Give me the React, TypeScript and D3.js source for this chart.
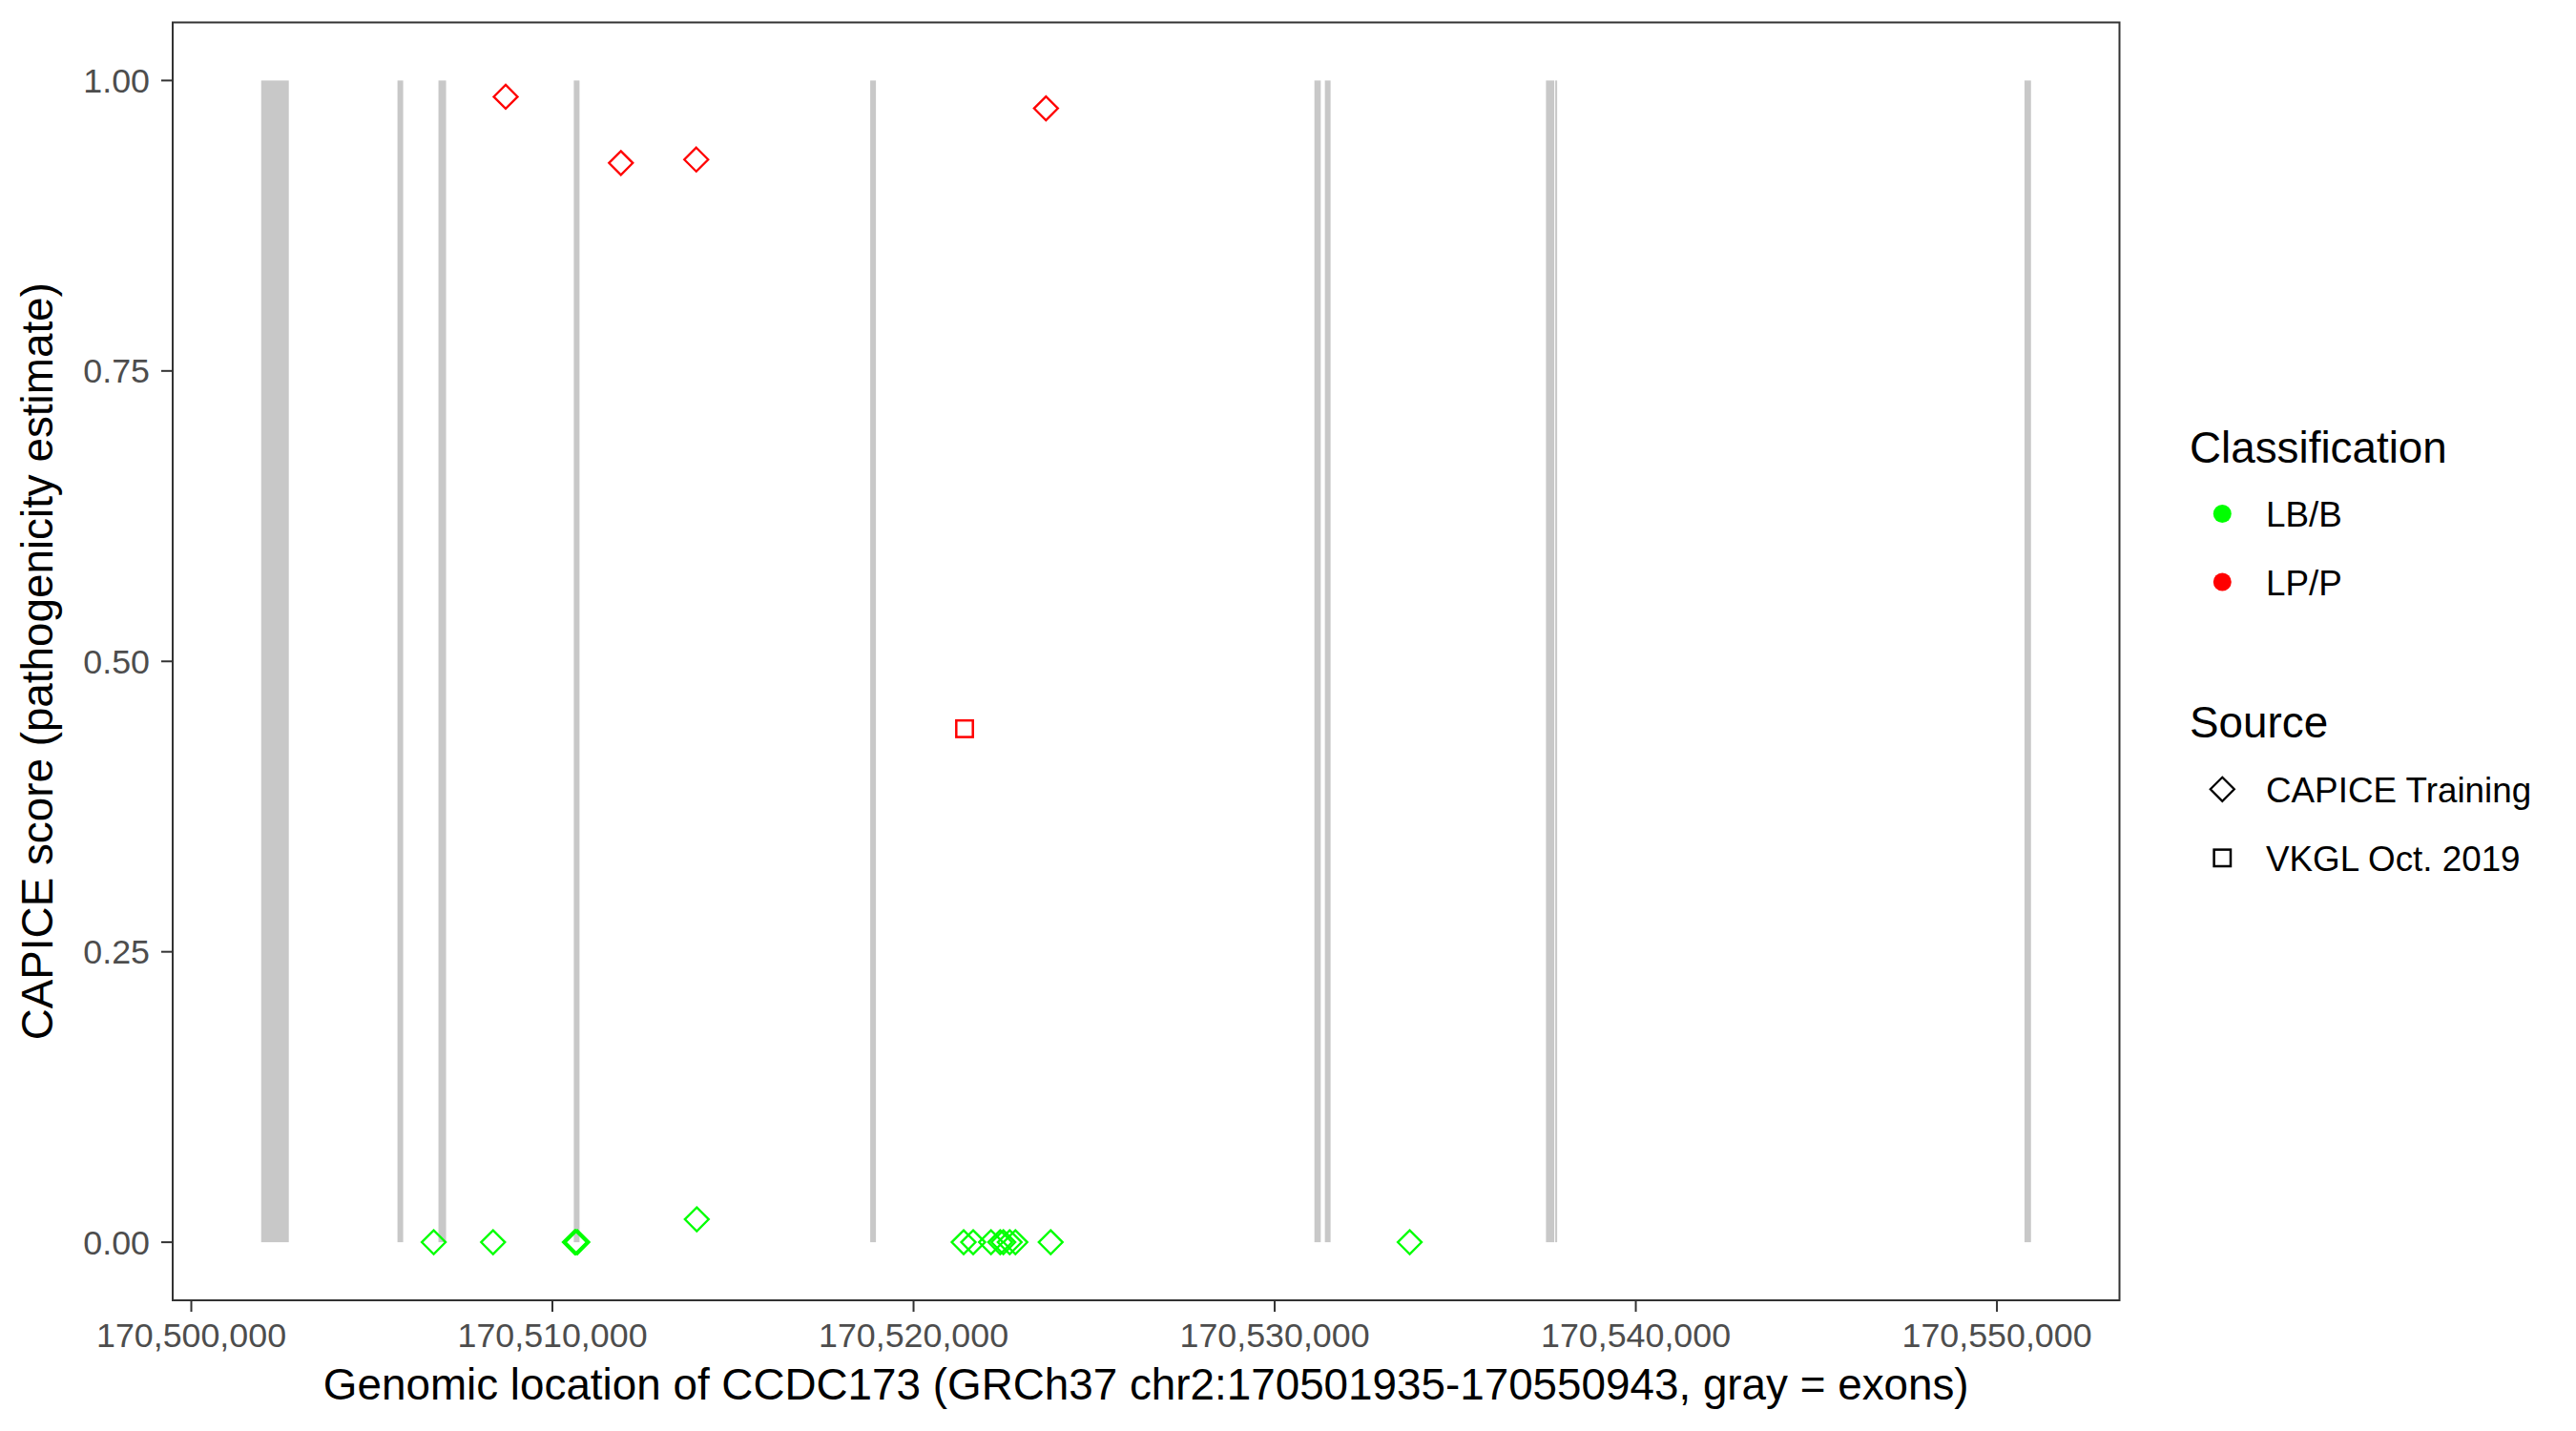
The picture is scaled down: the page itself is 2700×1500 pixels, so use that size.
import React from "react";
import * as d3 from "d3";

// ---- Data ----
const geneStart = 170501935;
const geneEnd = 170550943;

const exonStarts = [170501935, 170505709, 170506844, 170510592, 170518800, 170531100, 170531390, 170537513, 170537769, 170550763];
const exonEnds = [170502700, 170505867, 170507055, 170510750, 170518958, 170531276, 170531548, 170537743, 170537822, 170550943];

const variantPositions = [
  170506712, 170508356, 170510620, 170510652, 170510690, 170513997,
  170521387, 170521651, 170522144, 170522398, 170522487, 170522662, 170522820,
  170523797, 170533739,
  170508705, 170511896, 170513983, 170523667,
  170521413,
];
const variantScores = [
  0, 0, 0, 0, 0, 0.0197,
  0, 0, 0, 0, 0, 0, 0,
  0, 0,
  0.986, 0.929, 0.932, 0.976,
  0.442,
];
const variantClass = [
  "LB/B", "LB/B", "LB/B", "LB/B", "LB/B", "LB/B",
  "LB/B", "LB/B", "LB/B", "LB/B", "LB/B", "LB/B", "LB/B",
  "LB/B", "LB/B",
  "LP/P", "LP/P", "LP/P", "LP/P",
  "LP/P",
];
const variantSource = [
  "CAPICE Training", "CAPICE Training", "CAPICE Training", "CAPICE Training", "CAPICE Training", "CAPICE Training",
  "CAPICE Training", "CAPICE Training", "CAPICE Training", "CAPICE Training", "CAPICE Training", "CAPICE Training", "CAPICE Training",
  "CAPICE Training", "CAPICE Training",
  "CAPICE Training", "CAPICE Training", "CAPICE Training", "CAPICE Training",
  "VKGL Oct. 2019",
];

const xTicks = [170500000, 170510000, 170520000, 170530000, 170540000, 170550000];
const yTicks = [0, 0.25, 0.5, 0.75, 1.0];
const classLevels = ["LB/B", "LP/P"];
const classColors = ["#00FF00", "#FF0000"];
const sourceLevels = ["CAPICE Training", "VKGL Oct. 2019"];

const FONT = "'Liberation Sans', Arial, Helvetica, sans-serif";
const TITLE_SIZE = 45.8;
const TICK_SIZE = 35.8;
const LEGEND_SIZE = 36.8;

function Marker({ shape, cx, cy, color }: { shape: string; cx: number; cy: number; color: string }) {
  if (shape === "VKGL Oct. 2019") {
    const h = 8.7;
    return <rect x={cx - h} y={cy - h} width={2 * h} height={2 * h} fill="none" stroke={color} strokeWidth={2.5} />;
  }
  const r = 12.5;
  const p = `M${cx},${cy - r}L${cx + r},${cy}L${cx},${cy + r}L${cx - r},${cy}Z`;
  return <path d={p} fill="none" stroke={color} strokeWidth={2.3} />;
}

export default function App() {
  const W = 2700, H = 1500;
  const left = 181, right = 2221.5, top = 23.5, bottom = 1363;
  const span = geneEnd - geneStart;
  const x = d3.scaleLinear()
    .domain([geneStart - 0.05 * span, geneEnd + 0.05 * span])
    .range([left, right]);
  const y = d3.scaleLinear().domain([-0.05, 1.05]).range([bottom, top]);
  const color = d3.scaleOrdinal<string, string>().domain(classLevels).range(classColors);
  const fmt = d3.format(",");

  const idx = d3.range(variantPositions.length);

  return (
    <svg width={W} height={H} style={{ position: "absolute", left: 0, top: 0, background: "#fff" }} fontFamily={FONT}>
      <rect x={0} y={0} width={W} height={H} fill="#fff" />
      {/* exons */}
      {exonStarts.map((s, i) => (
        <rect key={"e" + i} x={x(s)} y={y(1)} width={Math.max(x(exonEnds[i]) - x(s), 1)} height={y(0) - y(1)} fill="#C8C8C8" />
      ))}
      {/* points */}
      {idx.map((i) => (
        <Marker key={"p" + i} shape={variantSource[i]} cx={x(variantPositions[i])} cy={y(variantScores[i])} color={color(variantClass[i])} />
      ))}
      {/* panel border */}
      <rect x={left} y={top} width={right - left} height={bottom - top} fill="none" stroke="#333333" strokeWidth={2} />
      {/* x axis */}
      {xTicks.map((t) => (
        <g key={"xt" + t}>
          <line x1={x(t)} x2={x(t)} y1={bottom} y2={bottom + 12} stroke="#333333" strokeWidth={2} />
          <text x={x(t)} y={bottom + 49} textAnchor="middle" fontSize={TICK_SIZE} fill="#4D4D4D">{fmt(t)}</text>
        </g>
      ))}
      {/* y axis */}
      {yTicks.map((t) => (
        <g key={"yt" + t}>
          <line x1={left - 12} x2={left} y1={y(t)} y2={y(t)} stroke="#333333" strokeWidth={2} />
          <text x={left - 24} y={y(t) + 12.5} textAnchor="end" fontSize={TICK_SIZE} fill="#4D4D4D">{t.toFixed(2)}</text>
        </g>
      ))}
      {/* axis titles */}
      <text x={(left + right) / 2} y={1467} textAnchor="middle" fontSize={TITLE_SIZE} fill="#000">
        Genomic location of CCDC173 (GRCh37 chr2:170501935-170550943, gray = exons)
      </text>
      <text transform={`translate(55,${(top + bottom) / 2}) rotate(-90)`} textAnchor="middle" fontSize={TITLE_SIZE} fill="#000">
        CAPICE score (pathogenicity estimate)
      </text>
      {/* legend: classification */}
      <text x={2295} y={485} fontSize={TITLE_SIZE} fill="#000">Classification</text>
      {classLevels.map((c, i) => (
        <g key={"lc" + c}>
          <circle cx={2329.3} cy={538.5 + i * 71.5} r={9.5} fill={color(c)} />
          <text x={2375} y={551.5 + i * 72.5} fontSize={LEGEND_SIZE} fill="#000">{c}</text>
        </g>
      ))}
      {/* legend: source */}
      <text x={2295} y={773} fontSize={TITLE_SIZE} fill="#000">Source</text>
      {sourceLevels.map((s, i) => (
        <g key={"ls" + s}>
          <Marker shape={s} cx={2329.3} cy={827.3 + i * 72} color="#000" />
          <text x={2375} y={840.7 + i * 72} fontSize={LEGEND_SIZE} fill="#000">{s}</text>
        </g>
      ))}
    </svg>
  );
}
